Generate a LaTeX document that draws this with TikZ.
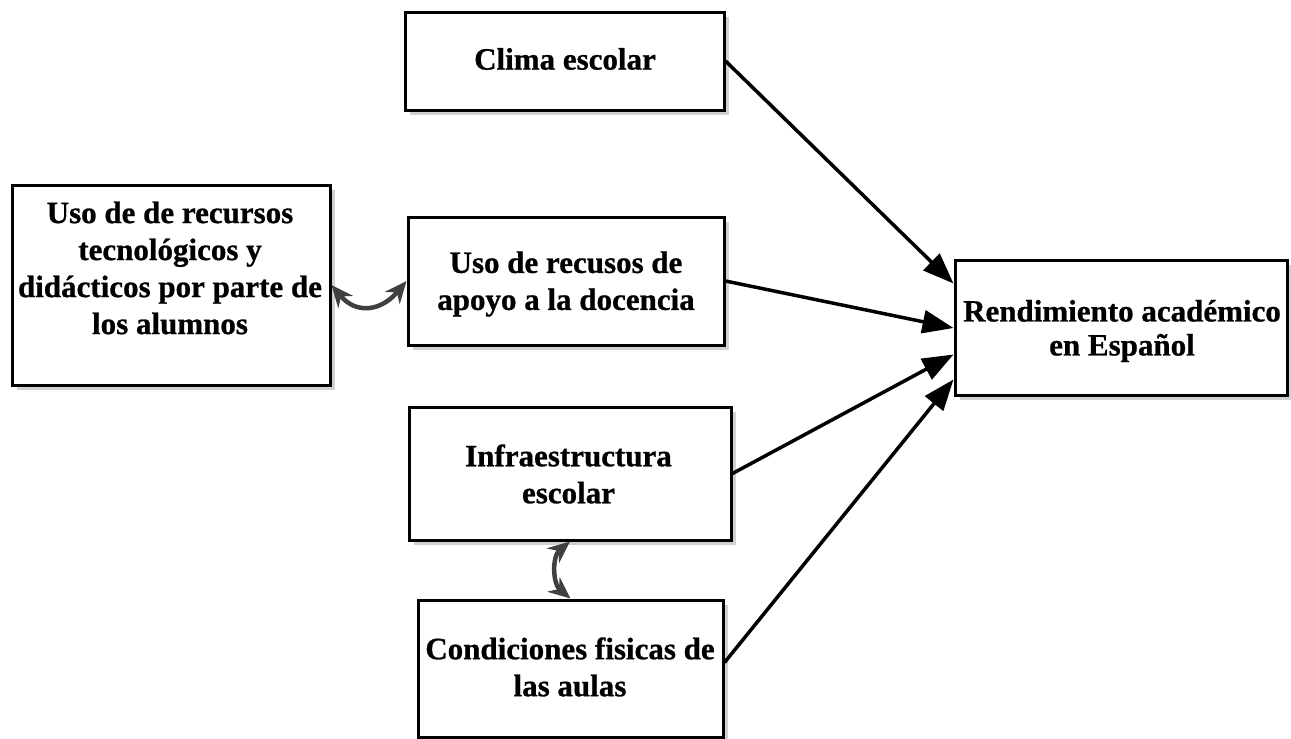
\documentclass[tikz,border=0pt]{standalone}
\usepackage{fontspec}
\setmainfont{Liberation Serif}[BoldFeatures={FakeBold=0.8}]
\usetikzlibrary{arrows.meta,shadows}
\begin{document}
\begin{tikzpicture}[x=1pt,y=-1pt]
\tikzset{
 box/.style={draw=black, line width=3pt, fill=white, inner sep=0pt,
   drop shadow={shadow xshift=4.5pt, shadow yshift=-4.5pt, fill=black!18, opacity=1}},
 lbl/.style={font=\fontsize{31}{37}\selectfont\bfseries, align=center, inner sep=0pt},
 mainarrow/.style={line width=3.5pt, -{Triangle[length=31pt,width=23pt]}},
 twoway/.style={draw=black!75, line width=4.5pt,
   {Stealth[length=22pt,width=19pt]}-{Stealth[length=22pt,width=19pt]}},
}
\fill[white] (0,0) rectangle (1291,739);
\useasboundingbox (0,0) rectangle (1291,739);
% boxes
\node[box, minimum width=319pt, minimum height=98pt]  (clima) at (564.5,61) {};
\node[box, minimum width=318pt, minimum height=200pt] (uso)   at (171,285) {};
\node[box, minimum width=316pt, minimum height=128pt] (apoyo) at (566,281) {};
\node[box, minimum width=332pt, minimum height=135pt] (rend)  at (1121,327.5) {};
\node[box, minimum width=322pt, minimum height=133pt] (infra) at (570,473.5) {};
\node[box, minimum width=305pt, minimum height=137pt] (cond)  at (570.5,668.5) {};
% labels
\node[lbl] (clima-t) at (565,59) {Clima escolar};
\node[lbl] (uso-t) at (170,268) {Uso de de recursos\\tecnológicos y\\didácticos por parte de\\los alumnos};
\node[lbl] (apoyo-t) at (566,284) {Uso de recusos de\\apoyo a la docencia};
\node[lbl, font=\fontsize{31}{34}\selectfont\bfseries] (rend-t) at (1122,331) {Rendimiento académico\\en Español};
\node[lbl] (infra-t) at (568.5,474) {Infraestructura\\escolar};
\node[lbl] (cond-t) at (570,667) {Condiciones fisicas de\\las aulas};
% main arrows
\draw[mainarrow] (clima.east) -- ([yshift=44pt]rend.west);
\draw[mainarrow] (apoyo.east) -- ([yshift=-0.5pt]rend.west);
\draw[mainarrow] (infra.east) -- ([yshift=-27pt]rend.west);
\draw[mainarrow] ([yshift=6pt]cond.east) -- ([yshift=-52pt]rend.west);
% two-way curved arrows
\draw[twoway] (uso.east) .. controls +(25,30) and +(-25,30) .. (apoyo.west);
\draw[twoway] (infra.south) .. controls +(-18,15) and +(-18,-15) .. (cond.north);
\end{tikzpicture}
\end{document}
